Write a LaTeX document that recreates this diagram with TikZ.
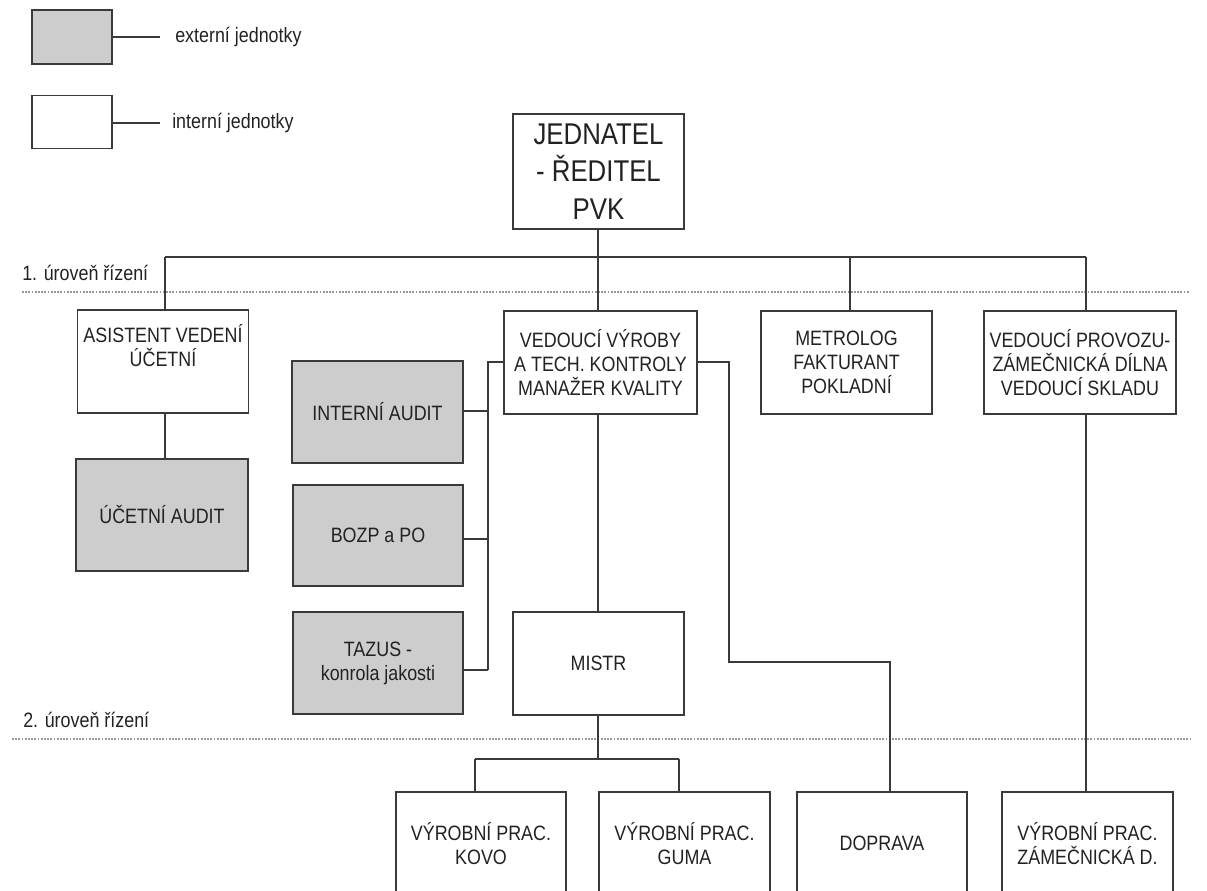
\documentclass[tikz,border=0pt]{standalone}
\usepackage{fontspec}
\setmainfont{Liberation Sans}
\newfontfamily\condfont[FakeStretch=0.86]{Liberation Sans}
\definecolor{boxc}{HTML}{3A3A3A}
\definecolor{extfill}{HTML}{CDCDCD}
\definecolor{txtc}{HTML}{222222}
\newcommand{\normfont}{\condfont\fontsize{15.6}{18}\selectfont}
\newcommand{\bigfont}{\condfont\fontsize{22.5}{28}\selectfont}
\tikzset{
  box/.style={draw=boxc, line width=1pt, fill=white, inner sep=0pt, align=center, font=\normfont, text=txtc},
  extbox/.style={box, fill=extfill},
  sz/.style 2 args={minimum width=#1*0.75pt, minimum height=#2*0.75pt},
  conn/.style={draw=boxc, line width=1pt},
  lvl/.style={draw=gray!80, line width=1.1pt, dash pattern=on 1.4pt off 1pt},
  lbl/.style={font=\normfont, text=txtc, inner sep=0pt, anchor=west}
}
\begin{document}
\begin{tikzpicture}[x=0.75pt, y=-0.75pt]
\useasboundingbox (0,0) rectangle (1207,890);
\clip (0,0) rectangle (1207,890);

% legend
\node[extbox, sz={80}{54}] (legExt) at (72,37) {};
\node[box, sz={80}{53}] (legInt) at (72,122) {};
\node[lbl] (legExtT) at (175,37) {externí jednotky};
\node[lbl] (legIntT) at (172,123) {interní jednotky};
\coordinate (legExtE) at (160,37);
\coordinate (legIntE) at (160,123);
\draw[conn] (legExt.east |- legExtE) -- (legExtE);
\draw[conn] (legInt.east |- legIntE) -- (legIntE);

% level markers
\node[lbl] (lvl1) at (22,273) {1. úroveň řízení};
\node[lbl] (lvl2) at (23,720) {2. úroveň řízení};
\coordinate (d1a) at (22,292);  \coordinate (d1b) at (1190,292);
\coordinate (d2a) at (12,739);  \coordinate (d2b) at (1190,739);
\draw[lvl] (d1a) -- (d1b);
\draw[lvl] (d2a) -- (d2b);

% boxes
\node[box, sz={171}{115}, font=\bigfont] (top) at (598.5,171.5) {JEDNATEL\\- ŘEDITEL\\PVK};
\node[box, sz={171}{103}] (asist) at (163,361.5) {ASISTENT VEDENÍ\\ÚČETNÍ\\\strut};
\node[extbox, sz={172}{112}] (ucaud) at (162,515) {ÚČETNÍ AUDIT};
\node[extbox, sz={171}{102}] (intaud) at (377.5,412) {INTERNÍ AUDIT};
\node[extbox, sz={170}{101}] (bozp) at (378,535.5) {BOZP a PO};
\node[extbox, sz={170}{102}] (tazus) at (378,663) {TAZUS -\\konrola jakosti};
\node[box, sz={193}{103}] (vedvyr) at (600.5,362.5) {VEDOUCÍ VÝROBY\\A TECH. KONTROLY\\MANAŽER KVALITY};
\node[box, sz={171}{103}] (metro) at (846.5,362.5) {METROLOG\\FAKTURANT\\POKLADNÍ};
\node[box, sz={192}{103}] (vedprov) at (1080,362.5) {VEDOUCÍ PROVOZU-\\ZÁMEČNICKÁ DÍLNA\\VEDOUCÍ SKLADU};
\node[box, sz={171}{103}] (mistr) at (598.5,663.5) {MISTR};
\node[box, sz={170}{103}] (kovo) at (481,843.5) {VÝROBNÍ PRAC.\\KOVO};
\node[box, sz={171}{103}] (guma) at (684.5,843.5) {VÝROBNÍ PRAC.\\GUMA};
\node[box, sz={170}{103}] (doprava) at (882,843.5) {DOPRAVA};
\node[box, sz={171}{103}] (zam) at (1087.5,843.5) {VÝROBNÍ PRAC.\\ZÁMEČNICKÁ D.};

% top bus
\coordinate (b1) at (165,257);
\coordinate (b2) at (598,257);
\coordinate (b3) at (850,257);
\coordinate (b4) at (1086,257);
\draw[conn] (top.south -| b2) -- (b2);
\draw[conn] (b1) -- (b4);
\draw[conn] (b1) -- (b1 |- asist.north);
\draw[conn] (b2) -- (b2 |- vedvyr.north);
\draw[conn] (b3) -- (b3 |- metro.north);
\draw[conn] (b4) -- (b4 |- vedprov.north);
\draw[conn] (b1 |- asist.south) -- (b1 |- ucaud.north);

% external staff bracket
\coordinate (lb1) at (488,362);
\coordinate (lb2) at (488,670);
\draw[conn] (vedvyr.west |- lb1) -- (lb1) -- (lb2);
\draw[conn] (intaud.east |- 0,411) -- (488,411);
\draw[conn] (bozp.east |- 0,539) -- (488,539);
\draw[conn] (tazus.east |- lb2) -- (lb2);

% doprava route
\coordinate (r1) at (729,362);
\coordinate (r2) at (729,662);
\coordinate (r3) at (890,662);
\draw[conn] (vedvyr.east |- r1) -- (r1) -- (r2) -- (r3) -- (r3 |- doprava.north);

% mistr
\draw[conn] (vedvyr.south -| b2) -- (b2 |- mistr.north);
\coordinate (m0) at (598,759);
\coordinate (m1) at (475,759);
\coordinate (m2) at (679,759);
\draw[conn] (mistr.south -| m0) -- (m0);
\draw[conn] (m1) -- (m2);
\draw[conn] (m1) -- (m1 |- kovo.north);
\draw[conn] (m2) -- (m2 |- guma.north);

% provoz
\draw[conn] (vedprov.south -| b4) -- (b4 |- zam.north);
\end{tikzpicture}
\end{document}
